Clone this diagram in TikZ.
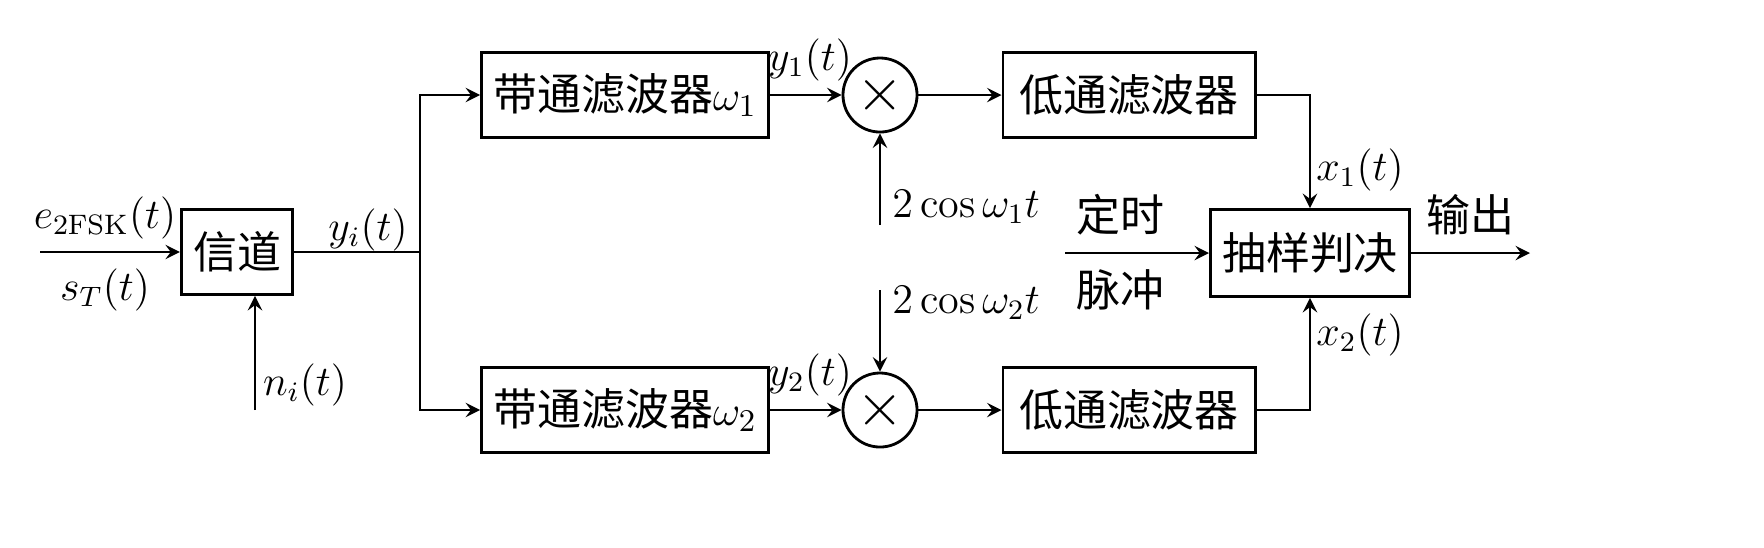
\documentclass[tikz,border=0pt]{standalone}
\usepackage{amsmath}
\usepackage{fontspec}
\newfontfamily\cjk{Noto Sans CJK SC}
\usetikzlibrary{arrows, positioning, calc}

\begin{document}
\begin{tikzpicture}[x=0.01cm, y=-0.01cm, font=\fontsize{12}{14}\selectfont]

% Estilos
\tikzset{
    block/.style={rectangle, draw, thick, minimum height=0.85cm, font=\fontsize{12.5}{14}\selectfont\cjk},
    mixer/.style={circle, draw, thick, minimum size=0.74cm, inner sep=0pt},
    arrow/.style={->, >=stealth, thick},
    line/.style={thick}
}

% Nós
\node (chan) [block, minimum width=1.05cm] at (237,252) {信道};
\node (bpfA) [block, minimum width=2.8cm] at (625,95) {带通滤波器$\omega_1$};
\node (bpfB) [block, minimum width=2.8cm] at (625,410) {带通滤波器$\omega_2$};
\node (mixA) [mixer] at (880,95) {\LARGE$\times$};
\node (mixB) [mixer] at (880,410) {\LARGE$\times$};
\node (lpfA) [block, minimum width=2.52cm] at (1129,95) {低通滤波器};
\node (lpfB) [block, minimum width=2.52cm] at (1129,410) {低通滤波器};
\node (dec) [block, minimum width=1.95cm, minimum height=0.87cm] at (1310,253) {抽样判决};

\coordinate (in) at (40,252);
\coordinate (noise) at (255,410);
\coordinate (split) at (420,252);
\coordinate (carA) at (880,225);
\coordinate (carB) at (880,290);
\coordinate (clk) at (1065,253);
\coordinate (out) at (1530,253);

% Setas
\draw [arrow] (in) -- (chan);
\draw [arrow] (noise) -- (noise |- chan.south);
\draw [line] (chan) -- (split);
\draw [arrow] (split) |- (bpfA);
\draw [arrow] (split) |- (bpfB);
\draw [arrow] (bpfA) -- (mixA);
\draw [arrow] (bpfB) -- (mixB);
\draw [arrow] (carA) -- (mixA);
\draw [arrow] (carB) -- (mixB);
\draw [arrow] (mixA) -- (lpfA);
\draw [arrow] (mixB) -- (lpfB);
\draw [arrow] (lpfA) -| (dec);
\draw [arrow] (lpfB) -| (dec);
\draw [arrow] (clk) -- (dec);
\draw [arrow] (dec) -- (out);

% Rótulos
\node at (105,218) {$e_{\text{2FSK}}(t)$};
\node at (105,290) {$s_T(t)$};
\node at (305,385) {$n_i(t)$};
\node at (368,230) {$y_i(t)$};
\node at (810,60) {$y_1(t)$};
\node at (810,375) {$y_2(t)$};
\node [anchor=west] at (880,207) {$2\cos\omega_1 t$};
\node [anchor=west] at (880,303) {$2\cos\omega_2 t$};
\node at (1360,170) {$x_1(t)$};
\node at (1360,335) {$x_2(t)$};
\node [font=\fontsize{12.5}{14}\selectfont\cjk] at (1120,215) {定时};
\node [font=\fontsize{12.5}{14}\selectfont\cjk] at (1120,290) {脉冲};
\node [font=\fontsize{12.5}{14}\selectfont\cjk] at (1470,215) {输出};

\pgfresetboundingbox
\useasboundingbox (0,0) rectangle (1764,547);
\end{tikzpicture}
\end{document}
